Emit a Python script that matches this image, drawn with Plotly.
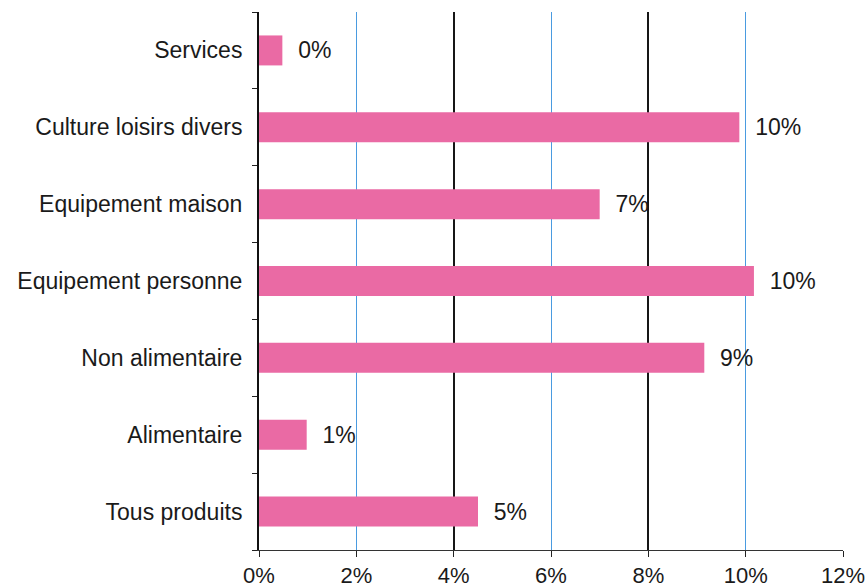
import plotly.graph_objects as go

categories = ["Tous produits", "Alimentaire", "Non alimentaire", "Equipement personne",
              "Equipement maison", "Culture loisirs divers", "Services"]
values = [4.5, 0.98, 9.15, 10.17, 7.0, 9.87, 0.48]
labels = ["5%", "1%", "9%", "10%", "7%", "10%", "0%"]
x_ticks = [0, 2, 4, 6, 8, 10, 12]
x_ticktext = ["0%", "2%", "4%", "6%", "8%", "10%", "12%"]

FONT = "Liberation Sans, Arial, sans-serif"
TXT = "#1a1a1a"

fig = go.Figure()
fig.add_trace(go.Bar(
    y=categories, x=values, orientation="h",
    marker=dict(color="#EA6AA4", line=dict(width=0)),
    width=0.39,
    text=["  " + t for t in labels], textposition="outside",
    textfont=dict(family=FONT, size=23, color=TXT),
    cliponaxis=False,
    hoverinfo="skip",
))
# invisible trace on overlay axis to carry the black gridlines
fig.add_trace(go.Scatter(x=[0], y=[categories[0]], xaxis="x2", mode="markers",
                         marker=dict(opacity=0), hoverinfo="skip", showlegend=False))

fig.update_layout(
    width=867, height=588,
    margin=dict(l=259, r=24, t=12, b=38, autoexpand=False),
    paper_bgcolor="white", plot_bgcolor="white",
    showlegend=False,
    font=dict(family=FONT, size=22, color=TXT),
    xaxis=dict(
        range=[0, 12], tickvals=x_ticks, ticktext=x_ticktext,
        showgrid=True, gridcolor="#4a9be0", gridwidth=1,
        zeroline=False, automargin=False,
        showline=True, linecolor="#333", linewidth=1,
        ticks="outside", ticklen=6, tickcolor="#222",
        tickfont=dict(family=FONT, size=22, color=TXT),
    ),
    xaxis2=dict(
        range=[0, 12], overlaying="x", side="bottom", tickvals=[4, 8, 12],
        showticklabels=False, showgrid=True, gridcolor="#161616", gridwidth=2,
        zeroline=False, showline=False, ticks="", automargin=False,
    ),
    yaxis=dict(
        type="category", categoryorder="array", categoryarray=categories,
        range=[-0.5, 6.5], automargin=False,
        showgrid=False, zeroline=False,
        showline=True, linecolor="#111", linewidth=2,
        ticks="outside", ticklen=5, tickcolor="#222", tickson="boundaries",
        tickfont=dict(family=FONT, size=23, color=TXT),
        ticklabelstandoff=10,
    ),
)

fig.write_html("out.html")
